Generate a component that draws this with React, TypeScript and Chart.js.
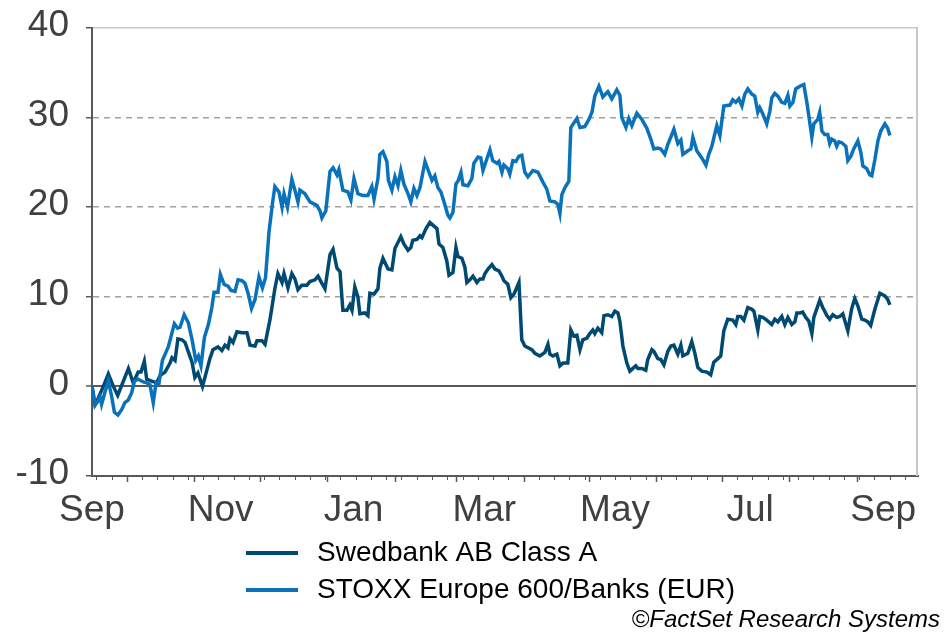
import React, { useEffect, useRef } from "react";
import { Chart, registerables } from "chart.js";

Chart.register(...registerables);

// x = days since 15 Sep (start of the period), y = % change
const swedbank: [number, number][] = [
  [0, 0], [1.4, -2.0], [2.9, -1.3], [5.2, 0], [7.5, 1.4], [9.8, 0], [11.8, -1.0], [14.4, 0.6], [16.7, 2.0],
  [18.9, 0.4], [21.2, 1.6], [22.5, 1.6], [24, 2.8], [25.1, 0.8], [27.4, 0.6], [29.7, 0.4], [31.2, 1.2],
  [33.5, 1.6], [35.8, 2.6], [36.7, 3.2], [38.1, 2.9], [39.4, 5.3], [41.3, 5.2], [42.7, 4.9], [44, 4.0],
  [45.9, 2.7], [47.2, 1.0], [48.6, 1.5], [50.7, 0], [52.8, 1.9], [54.1, 3.1], [55.5, 4.1], [57.8, 4.4],
  [59.6, 4.0], [61, 4.6], [62.4, 4.3], [63.3, 5.3], [64.7, 4.9], [66.5, 6.1], [68.8, 6.0], [71.1, 6.0],
  [72.5, 4.6], [74.8, 4.5], [75.7, 5.1], [78, 5.1], [79.4, 4.7], [81.7, 7.5], [83.9, 10.9], [85.3, 12.6],
  [87.2, 11.6], [88.1, 12.6], [89.9, 11.0], [91.7, 12.6], [93.1, 12.0], [94.5, 10.8], [96.3, 11.3],
  [98.6, 11.3], [100, 11.7], [102.3, 11.9], [103.7, 12.3], [105.5, 11.5], [106.9, 10.9], [109.2, 14.7],
  [110.6, 15.3], [112.4, 13.2], [113.8, 12.8], [115.1, 8.5], [117, 8.5], [118.3, 9.1], [119.3, 8.5],
  [120.6, 11.1], [122, 10.0], [122.9, 8.1], [125.2, 8.2], [126.6, 7.9], [127.5, 10.4], [129.4, 10.3],
  [131.2, 10.9], [132.1, 13.2], [133.5, 14.3], [135.8, 13.1], [137.6, 13.0], [139, 15.4], [141.7, 16.7],
  [143.1, 15.9], [145, 15.2], [146.3, 15.5], [147.2, 16.3], [149.1, 16.4], [150.5, 16.8], [151.4, 16.6],
  [153.2, 17.6], [155, 18.3], [156.4, 18.0], [158.3, 17.6], [159.2, 15.9], [161, 15.5], [162.8, 14.0],
  [163.8, 12.4], [165.6, 12.7], [167, 15.5], [167.9, 14.5], [169.7, 14.3], [171.1, 13.3], [172, 11.6],
  [173.4, 11.9], [174.8, 12.3], [176.6, 11.6], [178, 12.0], [179.4, 12.0], [180.3, 12.6], [181.7, 13.1],
  [183.5, 13.6], [184.9, 13.1], [186.7, 12.9], [188.1, 12.3], [189, 11.8], [190.8, 11.4], [192.2, 9.9],
  [193.6, 10.3], [195.9, 11.6], [197.2, 5.2], [198.6, 4.5], [201.8, 4.1], [203.2, 3.7], [205.5, 3.4],
  [207.8, 3.8], [209.2, 4.7], [210.1, 3.6], [211.5, 3.4], [213.3, 3.6], [214.7, 2.3], [216.1, 2.6],
  [218.3, 2.6], [219.7, 6.3], [221.1, 5.6], [222.5, 5.7], [223.9, 4.1], [225.2, 5.2], [227.1, 5.4],
  [228.4, 5.9], [229.8, 6.3], [230.7, 5.9], [232.1, 6.5], [233.9, 6.0], [234.9, 7.9], [236.7, 8.0],
  [238.5, 7.8], [239.9, 8.4], [241.3, 8.2], [242.2, 7.3], [243.6, 4.5], [245.4, 2.6], [246.8, 1.7],
  [247.7, 1.9], [249.5, 2.3], [250.5, 2.0], [252.3, 2.0], [254.1, 1.8], [255, 3.0], [256.9, 4.1],
  [257.8, 3.9], [259.6, 3.1], [261, 3.0], [262.4, 2.4], [264.2, 3.9], [265.6, 4.5], [267, 4.6],
  [268.8, 3.6], [270.2, 4.6], [271.1, 3.4], [273.4, 3.7], [275.2, 5.0], [276.6, 3.7], [278, 2.1],
  [279.8, 1.7], [282.1, 1.6], [283.9, 1.3], [285.3, 2.7], [287.2, 3.1], [288.5, 3.4], [289.9, 6.2],
  [291.7, 7.5], [294, 7.4], [295.4, 6.9], [296.3, 7.8], [297.7, 7.8], [299.1, 7.4], [300.9, 8.8],
  [302.8, 8.6], [303.7, 8.4], [305.5, 6.3], [306.4, 7.8], [307.8, 7.7], [309.6, 7.4], [311.9, 6.9],
  [313.3, 7.5], [314.7, 7.2], [316.5, 7.8], [317.9, 6.9], [319.3, 7.7], [321.1, 6.9], [322.5, 7.2],
  [323.4, 8.2], [324.8, 8.2], [326.1, 8.3], [327.5, 7.7], [328.9, 7.3], [330.3, 5.9], [331.2, 7.7],
  [333.9, 9.6], [335.3, 8.8], [337.2, 7.9], [338.5, 7.5], [339.9, 8.0], [341.7, 7.7], [343.1, 7.8],
  [344.5, 8.1], [346.8, 6.2], [348.6, 8.7], [350, 9.8], [351.4, 9.0], [353.2, 7.5], [354.6, 7.4],
  [356, 7.2], [357.3, 6.8], [359.2, 8.6], [361.5, 10.4], [363.8, 10.1], [365.1, 9.7], [366.1, 9.1],
];

const stoxxBanks: [number, number][] = [
  [0, 0], [1.4, -2.1], [2.6, -1.7], [3.7, -1.2], [4.4, -2.0], [6, -0.6], [7.5, 0.6], [9, -1.1],
  [10.3, -2.9], [11.9, -3.2], [13.6, -2.6], [15.1, -1.8], [16.7, -1.5], [18.2, -0.7], [19.5, 0.6],
  [21.2, 0.8], [23.5, 0.5], [25.1, 0.4], [26.6, 0.2], [28.1, -1.8], [29.4, 0.4], [30.7, 0.3], [32.3, 2.9],
  [35, 4.4], [37.8, 7.0], [39.3, 6.5], [40.4, 6.6], [42.3, 8.0], [44.2, 7.1], [46, 5.1], [47.6, 2.9],
  [48.8, 3.4], [50, 2.3], [51.6, 5.5], [53.4, 6.9], [55, 8.8], [56, 10.5], [57.8, 10.5], [58.9, 12.5],
  [60.6, 11.4], [62.4, 11.2], [63.8, 10.7], [65.6, 10.6], [67, 11.9], [68.8, 11.8], [70.2, 11.5],
  [71.6, 10.4], [73.2, 8.7], [74.8, 9.7], [76.6, 12.2], [78.2, 11.0], [79.6, 12.1], [81.2, 17.2],
  [82.8, 20.4], [83.9, 22.3], [85.8, 21.7], [87.2, 20.0], [88.1, 21.5], [89.7, 20.0], [91.7, 23.1],
  [93.1, 21.9], [94.5, 20.6], [95.4, 21.9], [97.7, 21.5], [100, 20.6], [103.2, 20.2], [104.6, 19.6],
  [105.5, 18.8], [107.3, 19.6], [109.2, 24.0], [110.6, 24.4], [112.4, 23.6], [113.3, 24.2], [115.1, 21.9],
  [117.4, 21.7], [118.8, 20.8], [120.2, 23.2], [122, 21.5], [124.3, 21.3], [126.6, 21.3], [128.4, 22.3],
  [129.4, 20.9], [131.2, 23.2], [132.1, 25.9], [133.5, 26.2], [135.3, 25.1], [136, 23.0], [137.6, 21.9],
  [139, 23.4], [140.4, 22.4], [141.7, 24.1], [143.1, 22.6], [145, 21.5], [146.3, 20.6], [147.7, 22.1],
  [149.1, 21.3], [150.5, 22.2], [152.8, 25.1], [154.6, 23.9], [156, 23.0], [157.3, 23.5], [158.7, 22.2],
  [160.1, 21.7], [161.5, 20.6], [163.3, 19.1], [164.2, 18.8], [165.6, 19.4], [167, 22.6], [167.9, 22.9],
  [169.3, 23.9], [170.2, 22.5], [172.5, 22.4], [174.3, 23.2], [175.2, 24.9], [177.1, 25.6], [178.4, 25.5],
  [179.4, 24.1], [181.2, 25.4], [182.6, 26.4], [183.9, 25.2], [185.8, 24.9], [186.7, 25.1], [188.1, 23.9],
  [189, 24.7], [190.8, 24.3], [191.7, 23.7], [193.1, 25.2], [194.5, 25.1], [195.9, 25.7], [197.2, 25.8],
  [198.6, 23.9], [200, 23.4], [202.3, 24.1], [204.6, 23.9], [206.9, 22.8], [208.7, 22.0], [210.1, 20.7],
  [212.4, 20.6], [213.8, 20.3], [214.7, 19.3], [215.6, 21.4], [217, 22.2], [218.8, 22.9], [219.7, 28.9],
  [221.1, 29.4], [222.5, 29.9], [223.9, 28.9], [226.1, 29.0], [228, 29.8], [229.4, 30.6], [230.7, 32.4],
  [232.6, 33.5], [234.4, 32.3], [236.7, 32.9], [238.5, 32.1], [240.8, 33.1], [242.2, 32.5], [243.1, 30.0],
  [245, 28.9], [246.3, 29.9], [247.7, 29.1], [250, 30.5], [252.3, 29.8], [254.6, 28.8], [256.4, 27.6],
  [257.8, 26.5], [259.6, 26.6], [261, 26.5], [262.8, 25.9], [264.2, 27.0], [267, 28.7], [268.8, 27.1],
  [270.2, 27.5], [271.1, 25.9], [273.4, 26.3], [274.8, 26.5], [275.7, 27.8], [277.5, 26.3], [279.8, 25.5],
  [281.7, 24.7], [283, 25.9], [284.4, 26.8], [286.7, 29.1], [288.1, 28.0], [289.9, 31.3], [292.7, 31.4],
  [294, 32.0], [295.4, 31.7], [296.8, 32.1], [298.2, 31.3], [299.5, 32.6], [300.9, 33.2], [302.8, 32.6],
  [304.1, 32.4], [305.5, 30.6], [306.4, 31.1], [307.8, 30.4], [309.6, 29.3], [311, 30.7], [311.9, 32.2],
  [313.3, 32.7], [314.7, 32.4], [316.5, 31.7], [317.9, 31.6], [319.3, 32.5], [320.2, 31.3], [321.6, 31.7],
  [322.9, 33.2], [324.8, 33.5], [326.6, 33.7], [328, 31.7], [328.9, 30.2], [330.3, 27.8], [331.2, 29.3],
  [333, 29.8], [333.9, 30.6], [334.9, 28.5], [336.2, 28.1], [337.6, 28.1], [338.5, 27.1], [339.4, 27.6],
  [340.8, 27.4], [341.7, 26.8], [342.7, 27.3], [344, 27.2], [345.9, 26.8], [346.8, 25.2], [348.2, 25.7],
  [349.5, 26.5], [351.4, 27.4], [352.8, 26.1], [353.7, 24.6], [355.5, 24.3], [356.9, 23.6], [357.8, 23.5],
  [359.2, 25.3], [360.6, 27.4], [361.9, 28.5], [363.8, 29.3], [365.1, 28.8], [366.1, 28.0],
];

const seriesLabels = ["Swedbank AB Class A", "STOXX Europe 600/Banks (EUR)"];
const seriesColors = ["#004A72", "#0A72BA"];

const yTicks = [-10, 0, 10, 20, 30, 40];
const monthLabels = ["Sep", "Nov", "Jan", "Mar", "May", "Jul", "Sep"];
const monthLabelDays = [0, 59, 120, 180, 240, 302, 363];
const monthStartDays = [16, 47, 77, 108, 139, 167, 198, 228, 259, 289, 320, 351];
const axisEndDay = 379;
const firstWeekTickDay = 2;
const copyrightText = "©FactSet Research Systems";

const FONT = '"Liberation Sans", Arial, Helvetica, sans-serif';
const AXIS_GRAY = "#595959";

const weekTickDays: number[] = [];
for (let d = firstWeekTickDay; d <= axisEndDay; d += 7) weekTickDays.push(d);

const decorPlugin = {
  id: "decor",
  beforeDatasetsDraw(chart: any) {
    const { ctx, chartArea } = chart;
    ctx.save();
    ctx.strokeStyle = "#C8C8C8";
    ctx.lineWidth = 2;
    ctx.beginPath();
    ctx.moveTo(chartArea.right - 1, chartArea.top);
    ctx.lineTo(chartArea.right - 1, chartArea.bottom);
    ctx.stroke();
    ctx.restore();
  },
  afterDraw(chart: any) {
    const { ctx, chartArea, scales } = chart;
    const x = scales.x;
    const base = chartArea.bottom + 1;
    ctx.save();
    ctx.strokeStyle = AXIS_GRAY;
    ctx.lineWidth = 1;
    for (const d of weekTickDays) {
      const px = Math.round(x.getPixelForValue(d)) + 0.5;
      ctx.beginPath();
      ctx.moveTo(px, base);
      ctx.lineTo(px, base + 3);
      ctx.stroke();
    }
    ctx.lineWidth = 1.5;
    for (const d of monthStartDays) {
      const px = Math.round(x.getPixelForValue(d)) + 0.5;
      ctx.beginPath();
      ctx.moveTo(px, base);
      ctx.lineTo(px, base + 5);
      ctx.stroke();
    }

    // legend
    ctx.textBaseline = "middle";
    ctx.textAlign = "left";
    ctx.font = `28px ${FONT}`;
    ctx.fillStyle = "#000000";
    seriesLabels.forEach((label, i) => {
      const y = 553 + i * 37;
      ctx.strokeStyle = seriesColors[i];
      ctx.lineWidth = 4;
      ctx.beginPath();
      ctx.moveTo(246, y);
      ctx.lineTo(298, y);
      ctx.stroke();
      ctx.fillText(label, 317, y);
    });

    ctx.font = `italic 24px ${FONT}`;
    ctx.textAlign = "right";
    ctx.textBaseline = "alphabetic";
    ctx.fillText(copyrightText, 940, 627);
    ctx.restore();
  },
};

export default function App() {
  const canvasRef = useRef<HTMLCanvasElement | null>(null);

  useEffect(() => {
    const canvas = canvasRef.current;
    if (!canvas) return;
    const chart = new Chart(canvas, {
      type: "line",
      data: {
        datasets: [
          {
            label: seriesLabels[0],
            data: swedbank.map(([d, v]) => ({ x: d, y: v })),
            borderColor: seriesColors[0],
            borderWidth: 3.5,
            pointRadius: 0,
            tension: 0,
            order: 1,
          },
          {
            label: seriesLabels[1],
            data: stoxxBanks.map(([d, v]) => ({ x: d, y: v })),
            borderColor: seriesColors[1],
            borderWidth: 3.5,
            pointRadius: 0,
            tension: 0,
            order: 0,
          },
        ],
      },
      options: {
        animation: false,
        responsive: false,
        devicePixelRatio: 1,
        layout: { padding: { top: 28, right: 27, left: 0, bottom: 0 } },
        plugins: { legend: { display: false }, tooltip: { enabled: false } },
        scales: {
          x: {
            type: "linear",
            min: 0,
            max: axisEndDay,
            afterBuildTicks: (s: any) => {
              s.ticks = monthLabelDays.map((v) => ({ value: v }));
            },
            afterFit: (s: any) => {
              s.height = 157;
              s.paddingLeft = 0;
              s.paddingRight = 0;
            },
            grid: { display: false },
            border: { display: true, color: AXIS_GRAY, width: 2 },
            ticks: {
              autoSkip: false,
              maxRotation: 0,
              padding: 5,
              color: "#404040",
              font: { family: FONT, size: 37 },
              callback: (_v: any, i: number) => monthLabels[i],
            },
          },
          y: {
            type: "linear",
            min: -10,
            max: 40,
            afterBuildTicks: (s: any) => {
              s.ticks = yTicks.map((v) => ({ value: v }));
            },
            afterFit: (s: any) => {
              s.width = 92;
              s.paddingTop = 0;
              s.paddingBottom = 0;
            },
            grid: {
              color: (c: any) => {
                const v = c.tick ? c.tick.value : null;
                if (v === 0) return AXIS_GRAY;
                if (v === 40) return "#C8C8C8";
                if (v === -10) return "rgba(0,0,0,0)";
                return "#A0A0A0";
              },
              lineWidth: (c: any) => (c.tick && c.tick.value === 0 ? 2 : 1.5),
              tickColor: AXIS_GRAY,
              tickLength: 6,
              tickWidth: 1.5,
            },
            border: {
              display: true,
              color: AXIS_GRAY,
              width: 2,
              dash: (c: any) => (c.tick && c.tick.value > 0 && c.tick.value < 40 ? [6, 5] : []),
            },
            ticks: {
              padding: 17,
              labelOffset: -2,
              color: "#404040",
              font: { family: FONT, size: 37 },
              callback: (v: any) => String(v),
            },
          },
        },
      },
      plugins: [decorPlugin],
    } as any);
    return () => chart.destroy();
  }, []);

  return (
    <div style={{ position: "fixed", left: 0, top: 0, width: 945, height: 633, background: "#fff" }}>
      <canvas ref={canvasRef} width={945} height={633} />
    </div>
  );
}
